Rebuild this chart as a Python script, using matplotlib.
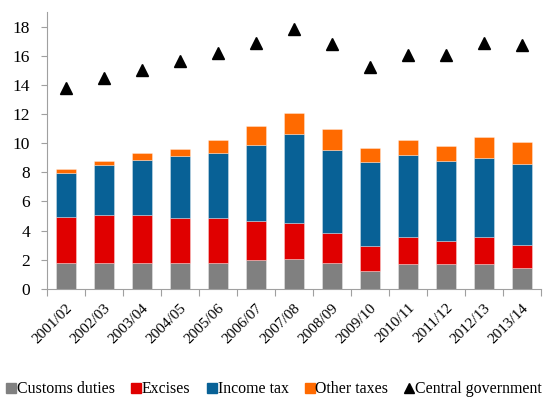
import matplotlib
matplotlib.use("Agg")
import matplotlib.pyplot as plt
import numpy as np
from matplotlib.lines import Line2D

plt.rcParams["font.family"] = ["Liberation Serif", "DejaVu Serif"]

years = ["2001/02", "2002/03", "2003/04", "2004/05", "2005/06", "2006/07",
         "2007/08", "2008/09", "2009/10", "2010/11", "2011/12", "2012/13",
         "2013/14"]
customs = [1.75, 1.75, 1.75, 1.75, 1.75, 2.0, 2.05, 1.75, 1.25, 1.7, 1.7, 1.7, 1.45]
excises = [3.2, 3.3, 3.3, 3.15, 3.15, 2.65, 2.5, 2.1, 1.7, 1.85, 1.6, 1.85, 1.55]
income_tax = [3.0, 3.45, 3.8, 4.2, 4.4, 5.25, 6.05, 5.65, 5.75, 5.65, 5.5, 5.45, 5.6]
other_taxes = [0.25, 0.3, 0.45, 0.5, 0.95, 1.25, 1.5, 1.45, 0.95, 1.05, 1.0, 1.4, 1.5]
central_gov = [13.8, 14.5, 15.0, 15.65, 16.15, 16.85, 17.8, 16.8, 15.2, 16.05, 16.05, 16.85, 16.7]

series = [
    ("Customs duties", customs, "#808080"),
    ("Excises", excises, "#E00000"),
    ("Income tax", income_tax, "#086196"),
    ("Other taxes", other_taxes, "#FF6A00"),
]

fig = plt.figure(figsize=(5.49, 3.98), dpi=100)
ax = fig.add_axes([0.085, 0.274, 0.9, 0.696])

x = np.arange(len(years))
bottom = np.zeros(len(years))
for name, vals, color in series:
    ax.bar(x, vals, width=0.52, bottom=bottom, color=color,
           edgecolor=(1, 1, 1, 0.45), linewidth=0.5, zorder=2)
    bottom += np.array(vals)

ax.plot(x, central_gov, linestyle="none", marker="^", color="black",
        markersize=9, zorder=3)

ax.set_xlim(-0.5, len(years) - 0.5)
ax.set_ylim(0, 19)
ax.set_yticks(np.arange(0, 19, 2))
ax.tick_params(axis="y", labelsize=12.5, length=4, color="#A0A0A0", pad=8)

# category boundaries carry the tick marks, labels sit at the centres
ax.set_xticks(np.arange(-0.5, len(years)), minor=False)
ax.set_xticklabels([])
ax.set_xticks(x, minor=True)
ax.set_xticklabels(years, minor=True, rotation=45, ha="right",
                   rotation_mode="anchor", fontsize=11)
ax.tick_params(axis="x", which="major", length=5, color="#A0A0A0")
ax.tick_params(axis="x", which="minor", length=0, pad=9)

for side in ["top", "right"]:
    ax.spines[side].set_visible(False)
for side in ["left", "bottom"]:
    ax.spines[side].set_color("#A0A0A0")

handles = [Line2D([0], [0], marker="s", linestyle="none", color=c,
                  markersize=7.5, label=n) for n, _, c in series]
handles.append(Line2D([0], [0], marker="^", linestyle="none", color="black",
                      markersize=7.5, label="Central government"))
fig.legend(handles=handles, loc="lower center", bbox_to_anchor=(0.5, -0.022),
           ncol=5, frameon=False, fontsize=11.4, handlelength=0.55,
           handletextpad=0.1, columnspacing=1.05, borderaxespad=0.2)

fig.savefig("out.png", dpi=100)
